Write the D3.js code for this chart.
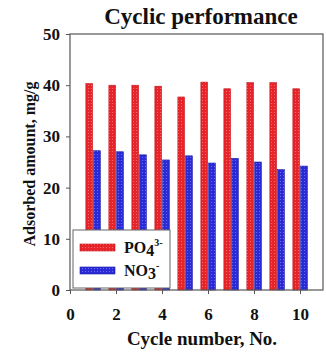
<!DOCTYPE html>
<html lang="en">
<head>
<meta charset="UTF-8" />
<title>Cyclic performance</title>
<script src="https://d3js.org/d3.v7.min.js"></script>
<style>
  body { margin: 0; background: #fff; }
  svg text { font-family: "Liberation Serif", "Times New Roman", Times, serif; font-weight: bold; fill: #111; }
</style>
</head>
<body>
<svg id="chart" width="326" height="352"></svg>
<script>
const cycles = [1, 2, 3, 4, 5, 6, 7, 8, 9, 10];
const po4 = [40.3, 40.0, 40.0, 39.8, 37.7, 40.6, 39.3, 40.5, 40.5, 39.3];
const no3 = [27.2, 27.0, 26.4, 25.4, 26.2, 24.8, 25.7, 25.0, 23.5, 24.2];
const xTicks = [0, 2, 4, 6, 8, 10];
const yTicks = [0, 10, 20, 30, 40, 50];

const svg = d3.select("#chart");
const plotLeft = 70, plotRight = 323, plotTop = 34, plotBottom = 290;

const x = d3.scaleLinear().domain([0, 11.0]).range([plotLeft, plotRight]);
const y = d3.scaleLinear().domain([0, 50]).range([plotBottom, plotTop]);

// textured fills
const defs = svg.append("defs");
function texture(id, base, dot) {
  const p = defs.append("pattern").attr("id", id)
    .attr("patternUnits", "userSpaceOnUse").attr("width", 3).attr("height", 3);
  p.append("rect").attr("width", 3).attr("height", 3).attr("fill", base);
  p.append("rect").attr("x", 1).attr("y", 1).attr("width", 1).attr("height", 1).attr("fill", dot);
}
texture("redTex", "#e8242a", "#f56b6e");
texture("blueTex", "#2a2ad6", "#6b6bf0");

// bars
const bw = x(0.29) - x(0);
svg.append("g").selectAll("rect").data(cycles).join("rect")
  .attr("x", (d) => x(d - 0.31))
  .attr("y", (d, i) => y(po4[i]))
  .attr("width", bw)
  .attr("height", (d, i) => y(0) - y(po4[i]))
  .attr("fill", "url(#redTex)")
  .attr("stroke", "#c0141a").attr("stroke-width", 0.6);

svg.append("g").selectAll("rect").data(cycles).join("rect")
  .attr("x", (d) => x(d + 0.03))
  .attr("y", (d, i) => y(no3[i]))
  .attr("width", bw)
  .attr("height", (d, i) => y(0) - y(no3[i]))
  .attr("fill", "url(#blueTex)")
  .attr("stroke", "#1a1aa8").attr("stroke-width", 0.6);

// frame
svg.append("rect")
  .attr("x", plotLeft).attr("y", plotTop)
  .attr("width", plotRight - plotLeft).attr("height", plotBottom - plotTop)
  .attr("fill", "none").attr("stroke", "#555").attr("stroke-width", 1.2);

// axes
const yAxis = svg.append("g").attr("transform", `translate(${plotLeft},0)`)
  .call(d3.axisLeft(y).tickValues(yTicks).tickSize(4).tickPadding(6));
const xAxis = svg.append("g").attr("transform", `translate(0,${plotBottom})`)
  .call(d3.axisBottom(x).tickValues(xTicks).tickSize(4).tickPadding(14));
[yAxis, xAxis].forEach((g) => {
  g.attr("font-family", null);
  g.select(".domain").remove();
  g.selectAll("line").attr("stroke", "#555");
  g.selectAll("text").attr("font-size", 17);
});

// title and labels
svg.append("text").attr("x", 201).attr("y", 24).attr("text-anchor", "middle")
  .attr("font-size", 23).text("Cyclic performance");

svg.append("text").attr("x", 202).attr("y", 345).attr("text-anchor", "middle")
  .attr("font-size", 19).text("Cycle number, No.");

svg.append("text")
  .attr("transform", "translate(35,164) rotate(-90)")
  .attr("text-anchor", "middle").attr("font-size", 16)
  .text("Adsorbed amount, mg/g");

// legend
const lg = svg.append("g");
lg.append("rect").attr("x", 73).attr("y", 230).attr("width", 97).attr("height", 58)
  .attr("fill", "#fff").attr("stroke", "#666").attr("stroke-width", 1);
const legendItems = [
  { fill: "url(#redTex)", stroke: "#c0141a", base: "PO", sub: "4", sup: "3-" },
  { fill: "url(#blueTex)", stroke: "#1a1aa8", base: "NO", sub: "3", sup: "-" },
];
legendItems.forEach((d, i) => {
  const cy = 247 + i * 23;
  lg.append("rect").attr("x", 80).attr("y", cy - 3).attr("width", 35).attr("height", 7)
    .attr("fill", d.fill).attr("stroke", d.stroke).attr("stroke-width", 0.6);
  const t = lg.append("text").attr("x", 124).attr("y", cy + 6)
    .attr("font-size", 16);
  t.append("tspan").text(d.base);
  t.append("tspan").attr("dy", 3).text(d.sub);
  t.append("tspan").attr("dy", -10).attr("font-size", 10).text(d.sup);
});
</script>
</body>
</html>
